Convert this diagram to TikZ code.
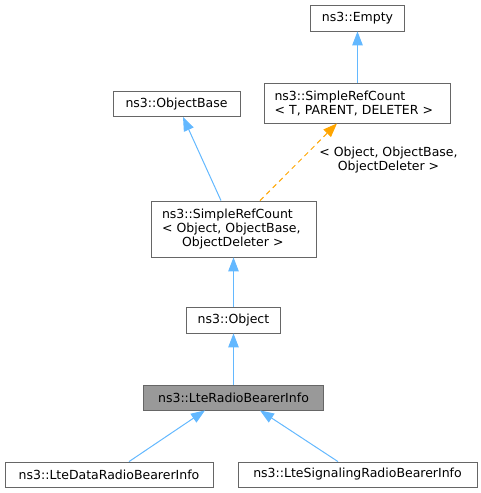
\documentclass[tikz,border=0pt]{standalone}
\usepackage{fontspec}
\setmainfont{DejaVu Sans}
\usetikzlibrary{arrows.meta}
\definecolor{edgeblue}{HTML}{63B8FF}
\definecolor{edgeorange}{HTML}{FFA500}
\definecolor{boxgray}{HTML}{666666}
\definecolor{hlgray}{HTML}{999999}
\begin{document}
\begin{tikzpicture}[x=1pt,y=-1pt,
  lblfont/.style={font=\fontsize{12.5}{14}\selectfont},
  cls/.style={draw=boxgray, line width=0.8pt, fill=white, inner sep=0pt, lblfont, text=black},
  inh/.style={draw=edgeblue, line width=1pt, -{Triangle[length=14pt,width=10.5pt,fill=edgeblue]}},
  tmpl/.style={draw=edgeorange, line width=1pt, dashed, dash pattern=on 5pt off 4pt, -{Triangle[length=14pt,width=10.5pt,fill=edgeorange]}}
]
\useasboundingbox (0,0) rectangle (481,493);
\node[cls, minimum width=94pt, minimum height=26pt] (empty) at (357.5,18) {ns3::Empty};
\node[cls, minimum width=186pt, minimum height=40pt, text width=166pt, align=left] (srct) at (357.5,103) {ns3::SimpleRefCount\\< T, PARENT, DELETER >};
\node[cls, minimum width=127pt, minimum height=25pt] (objbase) at (176.5,104) {ns3::ObjectBase};
\node[cls, minimum width=165pt, minimum height=56pt, text width=143pt, align=left] (srco) at (233.5,229) {ns3::SimpleRefCount\\< Object, ObjectBase,\\\hspace*{20pt}ObjectDeleter >};
\node[cls, minimum width=94pt, minimum height=26pt] (object) at (233.5,320) {ns3::Object};
\node[cls, fill=hlgray, minimum width=180pt, minimum height=25pt] (lrbi) at (233.5,397.5) {ns3::LteRadioBearerInfo};
\node[cls, minimum width=208pt, minimum height=25pt] (ldata) at (109,474.5) {ns3::LteDataRadioBearerInfo};
\node[cls, minimum width=239pt, minimum height=25pt] (lsig) at (357.5,474.5) {ns3::LteSignalingRadioBearerInfo};

\draw[inh] (srct.north) -- (empty.south);
\draw[inh] ([xshift=-12.5pt]srco.north) -- ([xshift=6.5pt]objbase.south);
\draw[tmpl] ([xshift=26.5pt]srco.north) -- ([xshift=-20.5pt]srct.south);
\node[lblfont, align=center, text=black, inner sep=0pt] (lbl) at (388.5,160) {< Object, ObjectBase,\\ObjectDeleter >};
\draw[inh] (object.north) -- (srco.south);
\draw[inh] (lrbi.north) -- (object.south);
\draw[inh] ([xshift=20pt]ldata.north) -- ([xshift=-28.5pt]lrbi.south);
\draw[inh] ([xshift=-19.5pt]lsig.north) -- ([xshift=26.5pt]lrbi.south);
\end{tikzpicture}
\end{document}
